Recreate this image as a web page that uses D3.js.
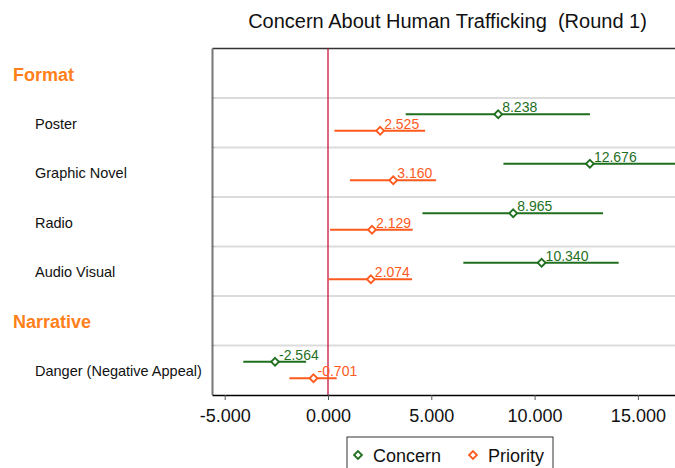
<!DOCTYPE html>
<html><head><meta charset="utf-8">
<script src="https://cdn.jsdelivr.net/npm/d3@7"></script>
<style>body{margin:0;background:#fff}svg{display:block;font-family:"Liberation Sans",Arial,sans-serif}text{white-space:pre}</style>
</head><body><svg id="c" width="675" height="468"></svg>
<script>
const rows = ["Format","Poster","Graphic Novel","Radio","Audio Visual","Narrative","Danger (Negative Appeal)"];
const headers = ["Format","Narrative"];
const items = ["Poster","Graphic Novel","Radio","Audio Visual","Danger (Negative Appeal)"];
const concernVal = [8.238, 12.676, 8.965, 10.340, -2.564];
const concernLo  = [3.76, 8.49, 4.57, 6.55, -4.10];
const concernHi  = [12.68, 16.87, 13.31, 14.07, -1.06];
const priorityVal = [2.525, 3.160, 2.129, 2.074, -0.701];
const priorityLo  = [0.31, 1.06, 0.10, 0.03, -1.87];
const priorityHi  = [4.70, 5.23, 4.10, 4.07, 0.42];
const xTicks = [-5, 0, 5, 10, 15];
const seriesNames = ["Concern","Priority"];

const green = "#1f6f1f", orange = "#ff5a1e", headerCol = "#ff7f1a";
const fmt = v => d3.format(".3f")(v).replace("\u2212","-");
const svg = d3.select("#c");
const L = 212.5, T = 48.5, B = 395;
const x = d3.scaleLinear().domain([0, 5]).range([328, 431.3]);
const y = d3.scaleBand().domain(rows).range([T, B]);

svg.append("text").attr("x", 447.5).attr("y", 28).attr("text-anchor","middle")
  .attr("font-size", 20).attr("fill","#111").text("Concern About Human Trafficking  (Round 1)");

// gridlines
rows.slice(1).forEach(r => {
  svg.append("line").attr("x1", L).attr("x2", 680).attr("y1", y(r)).attr("y2", y(r))
    .attr("stroke","#dcdcdc").attr("stroke-width",2);
  svg.append("line").attr("x1", L-1).attr("x2", L+2).attr("y1", y(r)).attr("y2", y(r))
    .attr("stroke","#aaa").attr("stroke-width",1);
});
// frame
svg.append("line").attr("x1",L).attr("x2",680).attr("y1",T).attr("y2",T).attr("stroke","#333").attr("stroke-width",1.3);
svg.append("line").attr("x1",L).attr("x2",L).attr("y1",T).attr("y2",B).attr("stroke","#777").attr("stroke-width",2);

// zero line
svg.append("line").attr("x1",x(0)).attr("x2",x(0)).attr("y1",T).attr("y2",B).attr("stroke","#c8143c").attr("stroke-width",1.3);

// x axis
const ax = svg.append("g").attr("transform",`translate(0,${B})`)
  .call(d3.axisBottom(x).tickValues(xTicks).tickFormat(fmt).tickSize(5).tickSizeOuter(0));
ax.select(".domain").attr("d", `M${L},0.5H680`).attr("stroke","#000").attr("stroke-width",1.3);
ax.selectAll(".tick line").attr("stroke","#555");
ax.selectAll(".tick text").attr("font-size",18).attr("fill","#111").attr("dy","1.05em")
  .attr("font-family","'Liberation Sans',Arial,sans-serif");

// row labels
rows.forEach(r => {
  const isH = headers.includes(r);
  svg.append("text").attr("x", isH ? 13 : 35).attr("y", y(r) + y.bandwidth()/2 + 1)
    .attr("dy","0.35em").attr("font-size", isH ? 18 : 14.5).attr("font-weight", isH ? "bold" : "normal")
    .attr("fill", isH ? headerCol : "#111").text(r);
});

const diamond = d3.symbol().type(d3.symbolDiamond2).size(40);
function series(vals, lo, hi, col, off) {
  items.forEach((r, i) => {
    const cy = y(r) + y.bandwidth()/2 + off;
    svg.append("line").attr("x1", x(lo[i])).attr("x2", x(hi[i])).attr("y1", cy).attr("y2", cy)
      .attr("stroke", col).attr("stroke-width", 1.8);
    svg.append("path").attr("d", diamond).attr("transform", `translate(${x(vals[i])},${cy})`)
      .attr("fill","#fff").attr("stroke", col).attr("stroke-width", 1.8);
    svg.append("text").attr("x", x(vals[i]) + 4).attr("y", cy - 2).attr("font-size", 14)
      .attr("fill", col).text(fmt(vals[i]));
  });
}
series(concernVal, concernLo, concernHi, green, -8.5);
series(priorityVal, priorityLo, priorityHi, orange, 8);

// legend
svg.append("rect").attr("x",347).attr("y",437).attr("width",206).attr("height",40)
  .attr("fill","#fff").attr("stroke","#333").attr("stroke-width",1);
const lg = [{c:green, x:358, t:seriesNames[0]}, {c:orange, x:473, t:seriesNames[1]}];
lg.forEach(d => {
  svg.append("path").attr("d", diamond).attr("transform",`translate(${d.x},455)`)
    .attr("fill","#fff").attr("stroke", d.c).attr("stroke-width",1.8);
  svg.append("text").attr("x", d.x + 15).attr("y", 461.5).attr("font-size",18).attr("fill","#111").text(d.t);
});
</script></body></html>
